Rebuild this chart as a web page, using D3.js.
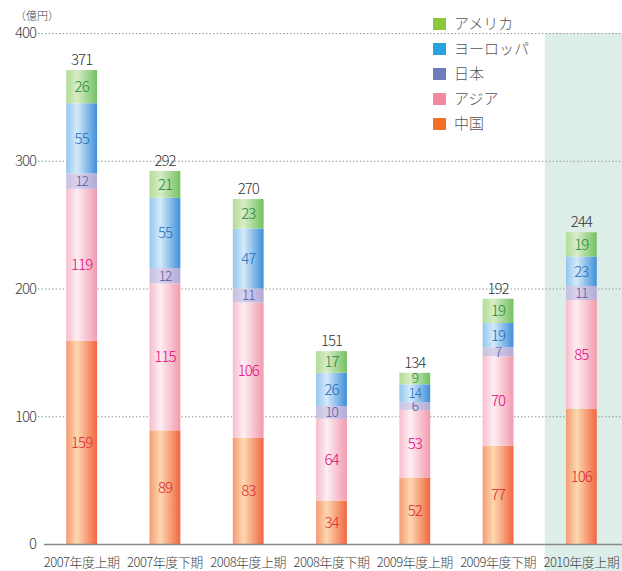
<!DOCTYPE html>
<html>
<head>
  <meta charset="utf-8">
  <script src="https://d3js.org/d3.v7.min.js"></script>
  <style>
    body { margin: 0; background: #fff; }
    text { font-family: "Noto Sans CJK JP", "DejaVu Sans", sans-serif; font-weight: 300; }
    .grid line { stroke: #999; stroke-width: 1; stroke-dasharray: 1.5, 2; }
  </style>
</head>
<body>
  <svg width="622" height="571"></svg>
  <script>
    var categories = ["2007年度上期", "2007年度下期", "2008年度上期", "2008年度下期", "2009年度上期", "2009年度下期", "2010年度上期"];
    var china   = [159, 89, 83, 34, 52, 77, 106];
    var asia    = [119, 115, 106, 64, 53, 70, 85];
    var japan   = [12, 12, 11, 10, 6, 7, 11];
    var europe  = [55, 55, 47, 26, 14, 19, 23];
    var america = [26, 21, 23, 17, 9, 19, 19];
    var yTicks = [0, 100, 200, 300, 400];

    // stacked bottom to top
    var series = [
      { key: "中国", values: china, legend: "#f36f21", text: "#d7282f", stops: ["#f59a74", "#fdd8b0", "#f06640"] },
      { key: "アジア", values: asia, legend: "#f389a0", text: "#e4007f", stops: ["#f7bccb", "#fdeef3", "#f29aae"] },
      { key: "日本", values: japan, legend: "#6f7bba", text: "#5a58a6", stops: ["#c6c0e0", "#d8d3ec", "#b2a9d6"] },
      { key: "ヨーロッパ", values: europe, legend: "#29a3de", text: "#1f6cbf", stops: ["#94c6ee", "#d3eafa", "#3f8fd9"] },
      { key: "アメリカ", values: america, legend: "#8dc63f", text: "#1b8a3c", stops: ["#b1dc96", "#d7edc6", "#74c062"] }
    ];

    var svg = d3.select("svg");
    var x = d3.scaleBand().domain(categories).range([40, 623]).paddingInner(0.63).paddingOuter(0.315);
    var y = d3.scaleLinear().domain([0, 400]).range([544, 33]);

    // gradients
    var defs = svg.append("defs");
    series.forEach(function(s, i) {
      var g = defs.append("linearGradient").attr("id", "grad" + i)
        .attr("x1", "0%").attr("x2", "100%").attr("y1", "0%").attr("y2", "0%");
      g.append("stop").attr("offset", "0%").attr("stop-color", s.stops[0]);
      g.append("stop").attr("offset", "35%").attr("stop-color", s.stops[1]);
      g.append("stop").attr("offset", "100%").attr("stop-color", s.stops[2]);
    });

    // highlighted period
    var last = categories[categories.length - 1];
    svg.append("rect")
      .attr("x", x(last) + x.bandwidth() / 2 - 36.5)
      .attr("y", y(400))
      .attr("width", 80)
      .attr("height", 571 - y(400))
      .attr("fill", "#ddeee9");

    // grid
    svg.append("g").attr("class", "grid")
      .selectAll("line").data(yTicks.slice(1)).enter().append("line")
      .attr("x1", 38).attr("x2", 622)
      .attr("y1", function(d) { return y(d) + 0.5; })
      .attr("y2", function(d) { return y(d) + 0.5; });

    // tick labels
    svg.append("g").selectAll("text").data(yTicks).enter().append("text")
      .attr("x", 36).attr("y", function(d) { return y(d); })
      .attr("dy", "0.35em").attr("text-anchor", "end")
      .attr("font-size", 15).attr("fill", "#444").attr("letter-spacing", -1)
      .text(function(d) { return d; });

    svg.append("text").attr("x", 15).attr("y", 20)
      .attr("font-size", 11).attr("fill", "#444").text("（億円）");

    // stacked bars
    var stackData = categories.map(function(c, i) {
      var o = { cat: c };
      series.forEach(function(s) { o[s.key] = s.values[i]; });
      return o;
    });
    var stacked = d3.stack().keys(series.map(function(s) { return s.key; }))(stackData);

    stacked.forEach(function(layer, si) {
      var g = svg.append("g");
      g.selectAll("rect").data(layer).enter().append("rect")
        .attr("x", function(d) { return x(d.data.cat); })
        .attr("y", function(d) { return y(d[1]); })
        .attr("width", x.bandwidth())
        .attr("height", function(d) { return y(d[0]) - y(d[1]); })
        .attr("fill", "url(#grad" + si + ")");
      g.selectAll("text").data(layer).enter().append("text")
        .attr("x", function(d) { return x(d.data.cat) + x.bandwidth() / 2; })
        .attr("y", function(d) { return (y(d[0]) + y(d[1])) / 2; })
        .attr("dy", "0.36em").attr("text-anchor", "middle")
        .attr("font-size", function(d) { return (d[1] - d[0]) < 15 ? 13.5 : 15; })
        .attr("letter-spacing", -1)
        .attr("fill", series[si].text)
        .text(function(d) { return d[1] - d[0]; });
    });

    // totals
    svg.append("g").selectAll("text").data(stackData).enter().append("text")
      .attr("x", function(d) { return x(d.cat) + x.bandwidth() / 2; })
      .attr("y", function(d) { return y(d3.sum(series, function(s) { return d[s.key]; })) - 5; })
      .attr("text-anchor", "middle").attr("font-size", 15).attr("letter-spacing", -1)
      .attr("fill", "#333")
      .text(function(d) { return d3.sum(series, function(s) { return d[s.key]; }); });

    // baseline
    svg.append("line").attr("x1", 44).attr("x2", 622)
      .attr("y1", y(0) + 0.5).attr("y2", y(0) + 0.5)
      .attr("stroke", "#888").attr("stroke-width", 1.5);

    // x labels
    svg.append("g").selectAll("text").data(categories).enter().append("text")
      .attr("x", function(d) { return x(d) + x.bandwidth() / 2; })
      .attr("y", 567).attr("text-anchor", "middle")
      .attr("font-size", 13).attr("fill", "#444").attr("letter-spacing", -0.5)
      .text(function(d) { return d; });

    // legend
    var legend = svg.append("g").selectAll("g").data(series.slice().reverse()).enter().append("g")
      .attr("transform", function(d, i) { return "translate(433," + (18 + i * 25) + ")"; });
    legend.append("rect").attr("width", 13).attr("height", 12)
      .attr("fill", function(d) { return d.legend; });
    legend.append("text").attr("x", 21).attr("y", 6).attr("dy", "0.36em")
      .attr("font-size", 15).attr("fill", "#555")
      .text(function(d) { return d.key; });
  </script>
</body>
</html>
